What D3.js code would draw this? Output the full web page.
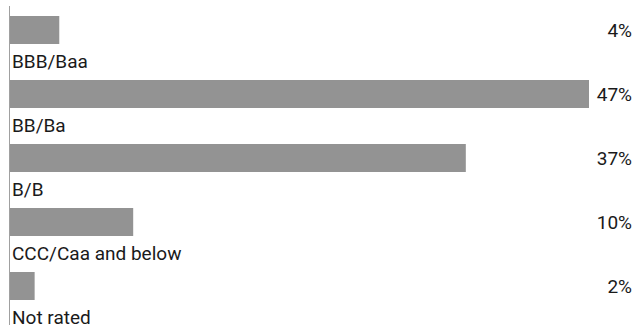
<!DOCTYPE html>
<html>
<head>
<meta charset="utf-8">
<script src="https://cdn.jsdelivr.net/npm/d3@7"></script>
<style>
  html, body { margin: 0; padding: 0; background: #fff; }
  svg { display: block; }
  text { font-family: Roboto, "Noto Sans", sans-serif; fill: #1a1a1a; }
</style>
</head>
<body>
<svg id="chart" width="636" height="325"></svg>
<script>
const categories = ["BBB/Baa", "BB/Ba", "B/B", "CCC/Caa and below", "Not rated"];
const values = [4, 47, 37, 10, 2];
const valueLabels = ["4%", "47%", "37%", "10%", "2%"];

const data = categories.map((c, i) => ({ cat: c, value: values[i], label: valueLabels[i] }));

const svg = d3.select("#chart");
const W = 636, H = 325;
const x0 = 10;

const x = d3.scaleLinear().domain([0, 47]).range([x0, 589]);
const y = d3.scaleBand().domain(categories).range([16, 300]).paddingInner(0.5625).paddingOuter(0);

svg.selectAll("rect.bar")
  .data(data)
  .join("rect")
  .attr("class", "bar")
  .attr("x", x(0))
  .attr("y", d => y(d.cat))
  .attr("width", d => x(d.value) - x(0))
  .attr("height", y.bandwidth())
  .attr("fill", "#939393");

svg.append("line")
  .attr("x1", x0 - 0.5).attr("x2", x0 - 0.5)
  .attr("y1", 6).attr("y2", H)
  .attr("stroke", "#a0a0a0")
  .attr("stroke-width", 1);

svg.selectAll("text.cat")
  .data(data)
  .join("text")
  .attr("class", "cat")
  .attr("x", 12)
  .attr("y", d => y(d.cat) + y.bandwidth() + 23.5)
  .attr("font-size", 19)
  .text(d => d.cat);

svg.selectAll("text.val")
  .data(data)
  .join("text")
  .attr("class", "val")
  .attr("x", 632)
  .attr("y", d => y(d.cat) + y.bandwidth() / 2 + 7)
  .attr("text-anchor", "end")
  .attr("font-size", 19)
  .text(d => d.label);
</script>
</body>
</html>
